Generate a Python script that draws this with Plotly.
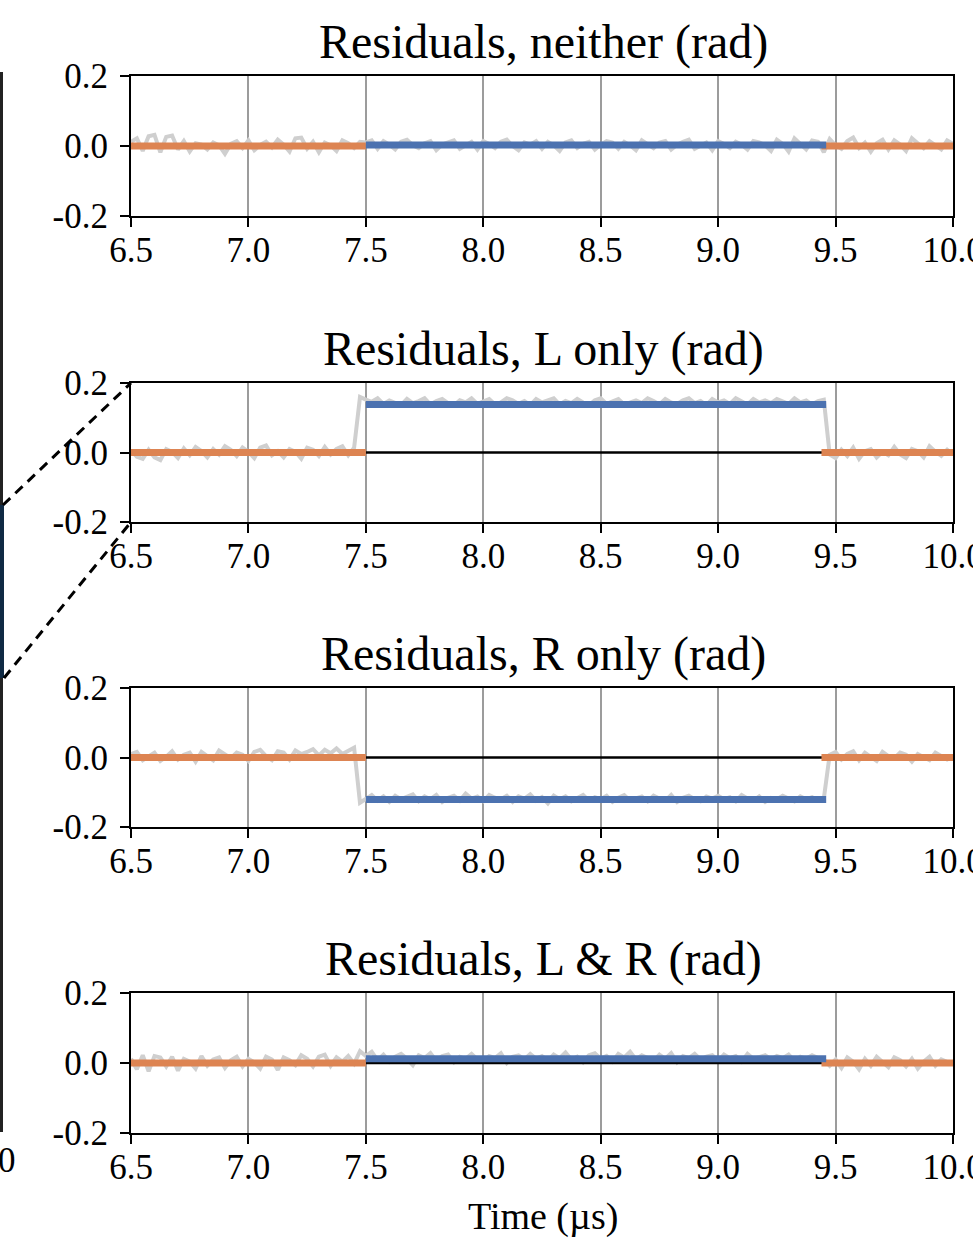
import plotly.graph_objects as go

# ---------------- data ----------------
panel_titles = ["Residuals, neither (rad)", "Residuals, L only (rad)",
                "Residuals, R only (rad)", "Residuals, L & R (rad)"]
x_ticks = [6.5, 7.0, 7.5, 8.0, 8.5, 9.0, 9.5, 10.0]
x_ticktext = ["6.5", "7.0", "7.5", "8.0", "8.5", "9.0", "9.5", "10.0"]
y_ticks = [-0.2, 0.0, 0.2]
y_ticktext = ["-0.2", "0.0", "0.2"]

# time grid of raw residual samples (µs), 0.025 µs spacing
t_start, t_step, n_samples = 6.5, 0.025, 141
time_us = [round(t_start + t_step * i, 3) for i in range(n_samples)]

raw_neither = [
    0.012, 0.022, -0.014, 0.028, 0.032, -0.018, 0.026, 0.030, -0.010, 0.014,
    -0.016, 0.008, 0.004, -0.010, 0.010, 0.002, -0.022, 0.006, 0.014, -0.006,
    0.016, -0.012, 0.003, 0.012, -0.004, 0.018, 0.004, -0.016, 0.022, 0.024,
    -0.008, 0.012, -0.018, 0.010, 0.002, -0.014, 0.016, 0.008, -0.006, 0.012,
    0.010, 0.016, -0.008, 0.014, 0.004, -0.010, 0.012, 0.018, 0.002, -0.006,
    0.008, 0.014, -0.012, 0.004, 0.010, 0.016, -0.008, 0.002, 0.012, -0.010,
    0.014, 0.006, -0.006, 0.012, 0.018, 0.000, -0.012, 0.010, 0.004, 0.014,
    -0.008, 0.012, 0.002, -0.014, 0.010, 0.016, -0.006, 0.006, 0.012, -0.010,
    0.004, 0.014, 0.010, -0.008, 0.012, 0.002, -0.012, 0.016, 0.006, -0.006,
    0.010, 0.014, -0.010, 0.004, 0.012, 0.018, -0.008, 0.002, 0.010, -0.012,
    0.014, 0.006, -0.006, 0.012, 0.004, -0.010, 0.014, 0.010, 0.002, -0.014,
    0.018, 0.006, -0.016, 0.022, 0.004, -0.010, 0.016, 0.012, -0.018, 0.020,
    0.002, -0.008, 0.014, 0.024, -0.006, 0.010, -0.016, 0.008, 0.018, -0.010,
    0.016, 0.004, -0.014, 0.022, 0.008, -0.006, 0.014, 0.002, -0.010, 0.016,
    0.006,
]
raw_l_only = [
    0.006, -0.012, -0.018, 0.008, -0.014, -0.022, 0.010, 0.002, -0.016, 0.012,
    -0.008, 0.016, 0.004, -0.014, 0.010, -0.006, 0.018, 0.008, -0.010, 0.014,
    0.002, -0.016, 0.014, 0.020, -0.008, 0.004, -0.014, 0.010, 0.002, -0.018,
    0.014, 0.008, -0.010, 0.016, -0.006, 0.010, 0.018, -0.008, 0.014, 0.160,
    0.152, 0.146, 0.156, 0.140, 0.150, 0.144, 0.136, 0.154, 0.142, 0.148,
    0.156, 0.138, 0.148, 0.154, 0.142, 0.136, 0.150, 0.144, 0.156, 0.140,
    0.148, 0.154, 0.138, 0.144, 0.156, 0.150, 0.140, 0.148, 0.136, 0.154,
    0.144, 0.150, 0.156, 0.138, 0.148, 0.142, 0.154, 0.144, 0.136, 0.150,
    0.156, 0.140, 0.148, 0.154, 0.138, 0.144, 0.150, 0.142, 0.156, 0.148,
    0.138, 0.154, 0.144, 0.140, 0.150, 0.156, 0.142, 0.148, 0.136, 0.154,
    0.144, 0.150, 0.140, 0.156, 0.148, 0.138, 0.154, 0.144, 0.150, 0.142,
    0.154, 0.148, 0.140, 0.156, 0.144, 0.150, 0.138, 0.148, 0.152, -0.006,
    -0.016, 0.008, -0.010, 0.014, -0.018, 0.004, 0.010, -0.014, 0.002, -0.008,
    0.016, -0.006, -0.016, 0.010, 0.004, -0.014, 0.018, 0.002, -0.010, 0.008,
    -0.006,
]
raw_r_only = [
    0.010, 0.016, -0.008, 0.004, 0.014, -0.010, 0.002, 0.018, -0.006, 0.008,
    0.014, -0.012, 0.016, 0.004, -0.008, 0.020, 0.010, -0.002, 0.014, 0.008,
    -0.010, 0.016, 0.022, 0.004, -0.008, 0.018, 0.014, -0.006, 0.020, 0.010,
    0.016, 0.024, 0.006, 0.022, 0.012, 0.026, 0.010, 0.020, 0.028, -0.130,
    -0.118, -0.108, -0.124, -0.112, -0.128, -0.110, -0.120, -0.114, -0.106, -0.126,
    -0.112, -0.120, -0.108, -0.128, -0.116, -0.110, -0.124, -0.104, -0.118, -0.112,
    -0.126, -0.108, -0.116, -0.120, -0.110, -0.128, -0.112, -0.118, -0.106, -0.124,
    -0.114, -0.132, -0.110, -0.120, -0.112, -0.126, -0.118, -0.108, -0.124, -0.114,
    -0.120, -0.110, -0.128, -0.116, -0.108, -0.124, -0.118, -0.112, -0.126, -0.110,
    -0.118, -0.124, -0.108, -0.128, -0.116, -0.110, -0.120, -0.126, -0.112, -0.118,
    -0.110, -0.120, -0.114, -0.126, -0.108, -0.118, -0.124, -0.112, -0.128, -0.116,
    -0.120, -0.110, -0.118, -0.126, -0.112, -0.120, -0.114, -0.124, -0.118, 0.008,
    0.016, -0.006, 0.010, 0.018, -0.008, 0.014, 0.002, -0.010, 0.016, 0.004,
    -0.002, 0.014, 0.008, -0.012, 0.010, 0.002, -0.008, 0.014, 0.004, -0.006,
    0.002,
]
raw_l_and_r = [
    0.012, -0.018, 0.022, -0.024, 0.020, 0.016, -0.010, 0.018, -0.022, 0.012,
    0.004, -0.016, 0.020, -0.008, 0.010, 0.016, -0.014, 0.008, 0.018, -0.010,
    0.012, 0.002, -0.016, 0.018, 0.010, -0.020, 0.016, 0.008, -0.006, 0.022,
    0.012, -0.010, 0.018, 0.024, -0.008, 0.016, 0.004, 0.020, -0.002, 0.034,
    0.020, 0.032, 0.008, 0.024, 0.004, 0.018, 0.026, 0.012, -0.006, 0.022,
    0.014, 0.028, 0.006, 0.020, 0.024, 0.002, 0.018, 0.012, 0.026, 0.010,
    0.004, 0.020, 0.014, 0.028, 0.000, 0.018, 0.022, 0.010, 0.026, 0.012,
    0.020, 0.006, 0.024, 0.014, 0.030, 0.010, 0.018, 0.002, 0.022, 0.028,
    0.012, 0.020, 0.004, 0.026, 0.016, 0.032, 0.010, 0.022, 0.014, 0.006,
    0.024, 0.012, 0.028, 0.002, 0.020, 0.014, 0.026, 0.010, 0.018, 0.022,
    0.006, 0.024, 0.014, 0.020, 0.004, 0.026, 0.012, 0.018, 0.022, 0.010,
    0.020, 0.014, 0.024, 0.006, 0.018, 0.012, 0.022, 0.014, 0.010, -0.008,
    0.010, -0.014, 0.016, 0.004, -0.018, 0.012, -0.008, 0.018, 0.002, -0.012,
    0.016, 0.008, -0.010, 0.012, -0.016, 0.004, 0.018, -0.008, 0.010, 0.002,
    -0.004,
]
raw_series = [raw_neither, raw_l_only, raw_r_only, raw_l_and_r]

# fitted levels
fit_before_x = [6.5, 7.5]
fit_during_x = [7.5, 9.46]
fit_after_x = [9.44, 10.0]
fit_before = [0.0, 0.0, 0.0, 0.0]
fit_during = [0.003, 0.138, -0.121, 0.012]
fit_after = [0.0, 0.0, 0.0, 0.0]
zero_ref_x = [7.5, 9.46]
zero_ref = [0.0, 0.0]

# ---------------- style ----------------
# figure is made a bit wider than the 973px window so that the right-hand
# "10.0" labels are clipped at the window edge, as in the reference
W, H = 1010, 1240
ML, MT, MB = 131, 76, 107
PLOT_RIGHT = 953
MR = W - PLOT_RIGHT
PW, PH = W - ML - MR, H - MT - MB
panel_px = [(76, 216), (383, 522), (688, 827), (993, 1133)]  # (top, bottom) in px
FONT = "Liberation Serif, Times New Roman, serif"
GRAY = "#cfcfcf"
ORANGE = "#dd8452"
BLUE = "#4c72b0"
TICK_SIZE = 35


def py(p):
    return (H - MB - p) / PH


def pxx(p):
    return (p - ML) / PW


fig = go.Figure()
for i in range(4):
    xa = "x" if i == 0 else f"x{i+1}"
    ya = "y" if i == 0 else f"y{i+1}"
    fig.add_trace(go.Scatter(x=time_us, y=raw_series[i], mode="lines",
                             line=dict(color=GRAY, width=4), xaxis=xa, yaxis=ya,
                             showlegend=False, hoverinfo="skip"))
    if i > 0:
        fig.add_trace(go.Scatter(x=zero_ref_x, y=zero_ref, mode="lines",
                                 line=dict(color="black", width=2.5), xaxis=xa, yaxis=ya,
                                 showlegend=False))
    fig.add_trace(go.Scatter(x=fit_before_x, y=[fit_before[i]] * 2, mode="lines",
                             line=dict(color=ORANGE, width=7), xaxis=xa, yaxis=ya,
                             showlegend=False))
    fig.add_trace(go.Scatter(x=fit_after_x, y=[fit_after[i]] * 2, mode="lines",
                             line=dict(color=ORANGE, width=7), xaxis=xa, yaxis=ya,
                             showlegend=False))
    fig.add_trace(go.Scatter(x=fit_during_x, y=[fit_during[i]] * 2, mode="lines",
                             line=dict(color=BLUE, width=7), xaxis=xa, yaxis=ya,
                             showlegend=False))

layout = dict(
    width=W, height=H, margin=dict(l=ML, r=MR, t=MT, b=MB, autoexpand=False),
    paper_bgcolor="white", plot_bgcolor="white",
    font=dict(family=FONT, size=TICK_SIZE, color="black"),
    showlegend=False,
)
annotations = []
for i in range(4):
    top, bot = panel_px[i]
    sx = "" if i == 0 else str(i + 1)
    layout[f"xaxis{sx}"] = dict(
        domain=[0, 1], range=[6.5, 10.0], anchor=f"y{sx}",
        tickvals=x_ticks, ticktext=x_ticktext,
        showgrid=True, gridcolor="#9c9c9c", gridwidth=1.5,
        showline=True, linecolor="black", linewidth=2, mirror=True,
        ticks="outside", ticklen=9, tickwidth=2, tickcolor="black",
        tickfont=dict(family=FONT, size=TICK_SIZE), zeroline=False,
        ticklabelstandoff=-7,
    )
    layout[f"yaxis{sx}"] = dict(
        domain=[py(bot), py(top)], range=[-0.2, 0.2], anchor=f"x{sx}",
        tickvals=y_ticks, ticktext=y_ticktext,
        showgrid=False, zeroline=False,
        showline=True, linecolor="black", linewidth=2, mirror=True,
        ticks="outside", ticklen=9, tickwidth=2, tickcolor="black",
        tickfont=dict(family=FONT, size=TICK_SIZE), ticklabelstandoff=5,
    )
    annotations.append(dict(
        text=panel_titles[i], xref="paper", yref="paper",
        x=pxx(543), y=py(top), yshift=34, xanchor="center", yanchor="middle",
        showarrow=False, font=dict(family=FONT, size=48, color="black")))

annotations.append(dict(text="Time (µs)", xref="paper", yref="paper",
                        x=pxx(543), y=0, yshift=-83, xanchor="center", yanchor="middle",
                        showarrow=False, font=dict(family=FONT, size=38)))
annotations.append(dict(text="0", xref="paper", yref="paper",
                        x=pxx(7), y=0, yshift=-27, xanchor="center", yanchor="middle",
                        showarrow=False, font=dict(family=FONT, size=TICK_SIZE)))
layout["annotations"] = annotations

shapes = [
    dict(type="line", xref="paper", yref="paper", x0=pxx(1.5), x1=pxx(1.5),
         y0=py(72), y1=py(1132), line=dict(color="#222222", width=3)),
    dict(type="line", xref="paper", yref="paper", x0=pxx(2), x1=pxx(2),
         y0=py(505), y1=py(678), line=dict(color="#0f2a44", width=4)),
    dict(type="line", xref="paper", yref="paper", x0=pxx(3), x1=pxx(131),
         y0=py(505), y1=py(383), line=dict(color="black", width=3, dash="10px,7px")),
    dict(type="line", xref="paper", yref="paper", x0=pxx(4), x1=pxx(131),
         y0=py(678), y1=py(522), line=dict(color="black", width=3, dash="10px,7px")),
]
layout["shapes"] = shapes

fig.update_layout(**layout)
fig.write_html("out.html", config={"displayModeBar": False},
               post_script="document.body.style.margin='0';document.body.style.overflow='hidden';")
